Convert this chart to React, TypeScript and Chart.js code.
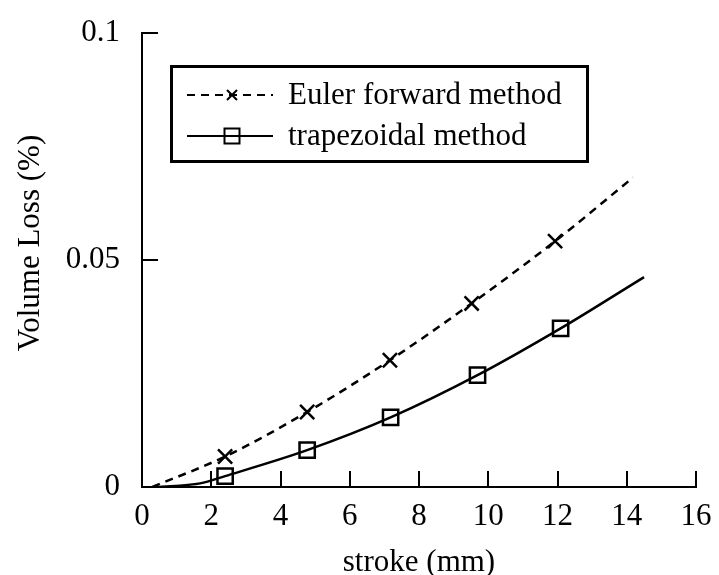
import React, { useEffect, useRef } from 'react';
import { Chart, registerables } from 'chart.js';

Chart.register(...registerables);

// Stroke (mm) and volume loss (%) for the two integration schemes.
const strokeEuler = [0.3, 2.4, 4.77, 7.16, 9.52, 11.93, 14.18];
const lossEuler = [0, 0.0067, 0.0165, 0.0279, 0.0404, 0.0541, 0.0681];
const markEuler = [false, true, true, true, true, true, false];

const strokeTrap = [0.4, 1.68, 2.4, 4.77, 7.18, 9.69, 12.09, 14.5];
const lossTrap = [0, 0.0008, 0.0024, 0.0081, 0.0153, 0.0246, 0.0349, 0.0462];
const markTrap = [false, false, true, true, true, true, true, false];

const seriesLabels = ['Euler forward method', 'trapezoidal method'];
const xTickValues = [0, 2, 4, 6, 8, 10, 12, 14, 16];
const yTickValues = [0, 0.05, 0.1];
const yTickLabels = ['0', '0.05', '0.1'];
const xTitle = 'stroke (mm)';
const yTitle = 'Volume Loss (%)';

const FONT = "'Liberation Serif', 'Times New Roman', Times, serif";
const INK = '#000';

const toPoints = (xs: number[], ys: number[]) => xs.map((x, i) => ({ x, y: ys[i] }));

// Tick marks pointing into the plot, like a classic journal figure.
const innerTicks = {
  id: 'innerTicks',
  afterDatasetsDraw(chart: any) {
    const { ctx, chartArea, scales } = chart;
    const len = 16;
    ctx.save();
    ctx.strokeStyle = INK;
    ctx.lineWidth = 2;
    ctx.beginPath();
    scales.x.ticks.forEach((t: any) => {
      if (t.value === 0) return;
      const px = Math.round(scales.x.getPixelForValue(t.value));
      ctx.moveTo(px, chartArea.bottom);
      ctx.lineTo(px, chartArea.bottom - len);
    });
    scales.y.ticks.forEach((t: any) => {
      if (t.value === 0) return;
      const py = Math.round(scales.y.getPixelForValue(t.value));
      ctx.moveTo(chartArea.left, py);
      ctx.lineTo(chartArea.left + len, py);
    });
    ctx.stroke();
    ctx.restore();
  },
};

// Vertical axis title, drawn a little above the axis centre.
const yAxisTitle = {
  id: 'yAxisTitle',
  afterDraw(chart: any) {
    const { ctx } = chart;
    ctx.save();
    ctx.translate(31, 243);
    ctx.rotate(-Math.PI / 2);
    ctx.font = `31px ${FONT}`;
    ctx.fillStyle = INK;
    ctx.textAlign = 'center';
    ctx.textBaseline = 'middle';
    ctx.fillText(yTitle, 0, 0);
    ctx.restore();
  },
};

// Boxed legend with line samples and markers.
const boxedLegend = {
  id: 'boxedLegend',
  afterDraw(chart: any) {
    const { ctx } = chart;
    const box = { x: 171.5, y: 66.5, w: 416, h: 95 };
    ctx.save();
    ctx.strokeStyle = INK;
    ctx.lineWidth = 3;
    ctx.strokeRect(box.x, box.y, box.w, box.h);

    const rows = [95, 136];
    const x0 = 187;
    const x1 = 273;
    const mx = 232;
    chart.data.datasets.forEach((ds: any, i: number) => {
      const y = rows[i];
      ctx.lineWidth = 2;
      ctx.setLineDash(ds.borderDash || []);
      ctx.beginPath();
      ctx.moveTo(x0, y);
      ctx.lineTo(x1, y);
      ctx.stroke();
      ctx.setLineDash([]);
      ctx.beginPath();
      if (ds.pointStyle === 'crossRot') {
        const o = 5;
        ctx.moveTo(mx - o, y - o);
        ctx.lineTo(mx + o, y + o);
        ctx.moveTo(mx - o, y + o);
        ctx.lineTo(mx + o, y - o);
      } else {
        ctx.rect(mx - 7.5, y - 7.5, 15, 15);
      }
      ctx.stroke();
      ctx.font = `31px ${FONT}`;
      ctx.fillStyle = INK;
      ctx.textAlign = 'left';
      ctx.textBaseline = 'middle';
      ctx.fillText(ds.label, 288, y + 1);
    });
    ctx.restore();
  },
};

export default function App() {
  const canvasRef = useRef<HTMLCanvasElement | null>(null);

  useEffect(() => {
    if (!canvasRef.current) return;
    Chart.defaults.font.family = FONT;
    Chart.defaults.color = INK;

    const chart = new Chart(canvasRef.current, {
      type: 'scatter',
      data: {
        datasets: [
          {
            label: seriesLabels[0],
            data: toPoints(strokeEuler, lossEuler),
            showLine: true,
            borderColor: INK,
            borderWidth: 2.5,
            borderDash: [8, 6],
            cubicInterpolationMode: 'monotone',
            pointStyle: 'crossRot',
            pointRadius: markEuler.map((m) => (m ? 10 : 0)),
            pointBorderWidth: 2.5,
            pointBorderColor: INK,
            pointBackgroundColor: 'rgba(0,0,0,0)',
          },
          {
            label: seriesLabels[1],
            data: toPoints(strokeTrap, lossTrap),
            showLine: true,
            borderColor: INK,
            borderWidth: 2.5,
            cubicInterpolationMode: 'monotone',
            pointStyle: 'rect',
            pointRadius: markTrap.map((m) => (m ? 10.8 : 0)),
            pointBorderWidth: 2.5,
            pointBorderColor: INK,
            pointBackgroundColor: 'rgba(0,0,0,0)',
          },
        ],
      },
      options: {
        animation: false,
        responsive: false,
        events: [],
        layout: { padding: { top: 32, right: 23, left: 0, bottom: 0 } },
        plugins: {
          legend: { display: false },
          tooltip: { enabled: false },
        },
        scales: {
          x: {
            type: 'linear',
            min: 0,
            max: 16,
            afterBuildTicks: (s: any) => {
              s.ticks = xTickValues.map((v) => ({ value: v }));
            },
            afterFit: (s: any) => {
              s.height = 88;
            },
            grid: { display: false },
            border: { display: true, color: INK, width: 2 },
            ticks: {
              font: { size: 31 },
              color: INK,
              padding: 3,
              maxRotation: 0,
            },
            title: {
              display: true,
              text: xTitle,
              font: { size: 31, lineHeight: 1 },
              color: INK,
              padding: { top: 0, bottom: -3 },
            },
          },
          y: {
            type: 'linear',
            min: 0,
            max: 0.1,
            afterBuildTicks: (s: any) => {
              s.ticks = yTickValues.map((v) => ({ value: v }));
            },
            afterFit: (s: any) => {
              s.width = 142;
            },
            grid: { display: false },
            border: { display: true, color: INK, width: 2 },
            ticks: {
              font: { size: 31 },
              color: INK,
              padding: 14,
              callback: (_v: any, i: number) => yTickLabels[i],
            },
          },
        },
      },
      plugins: [innerTicks, yAxisTitle, boxedLegend],
    } as any);

    return () => chart.destroy();
  }, []);

  return (
    <div style={{ position: 'fixed', left: 0, top: 0, width: 719, height: 575, background: '#fff' }}>
      <canvas ref={canvasRef} width={719} height={575} />
    </div>
  );
}
